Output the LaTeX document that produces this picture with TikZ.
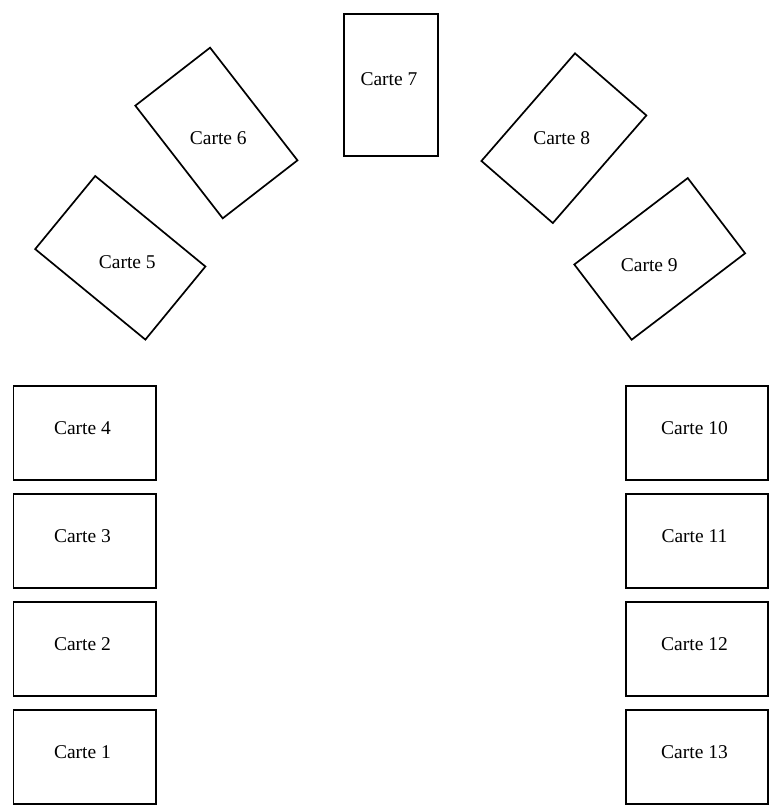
\documentclass[tikz,border=0pt]{standalone}
\usepackage{fontspec}
\setmainfont{Liberation Serif}
\usepackage{tikz}
\tikzstyle{paysage}=[rectangle, draw, line width=1.7pt, inner sep=0pt, minimum width=142.6pt, minimum height=94.6pt]
\tikzstyle{portrait}=[rectangle, draw, line width=1.7pt, inner sep=0pt, minimum width=94.6pt, minimum height=142.6pt]
\tikzstyle{texte}=[inner sep=0pt, font=\fontsize{19.5}{23}\selectfont]

\begin{document}
\begin{tikzpicture}[x=1pt, y=-1pt]
            \useasboundingbox (0,0) rectangle (778,810);
            % Cartes à gauche
            \node[paysage] (1) at (84.7, 757) {};
            \node[paysage] (2) at (84.7, 649) {};
            \node[paysage] (3) at (84.7, 541) {};
            \node[paysage] (4) at (84.7, 433) {};
            % Cartes en arc
            \node[paysage, rotate=-39.4] (5) at (120.3, 257.8) {};
            \node[portrait, rotate=37.8] (6) at (216.4, 133) {};
            \node[portrait] (7) at (391, 85) {};
            \node[portrait, rotate=-41] (8) at (563.9, 138.2) {};
            \node[paysage, rotate=37.3] (9) at (659.7, 258.9) {};
            % Cartes à droite
            \node[paysage] (10) at (697, 433) {};
            \node[paysage] (11) at (697, 541) {};
            \node[paysage] (12) at (697, 649) {};
            \node[paysage] (13) at (697, 757) {};
            % Textes
            \node[texte] (t1) at (82.5, 752) {Carte 1};
            \node[texte] (t2) at (82.5, 644) {Carte 2};
            \node[texte] (t3) at (82.5, 536) {Carte 3};
            \node[texte] (t4) at (82.5, 428) {Carte 4};
            \node[texte] (t5) at (127.3, 261.7) {Carte 5};
            \node[texte] (t6) at (218.3, 137.7) {Carte 6};
            \node[texte] (t7) at (389, 79) {Carte 7};
            \node[texte] (t8) at (561.7, 137.7) {Carte 8};
            \node[texte] (t9) at (649.3, 265) {Carte 9};
            \node[texte] (t10) at (694.5, 428) {Carte 10};
            \node[texte] (t11) at (694.5, 536) {Carte 11};
            \node[texte] (t12) at (694.5, 644) {Carte 12};
            \node[texte] (t13) at (694.5, 752) {Carte 13};
        \end{tikzpicture}
\end{document}
